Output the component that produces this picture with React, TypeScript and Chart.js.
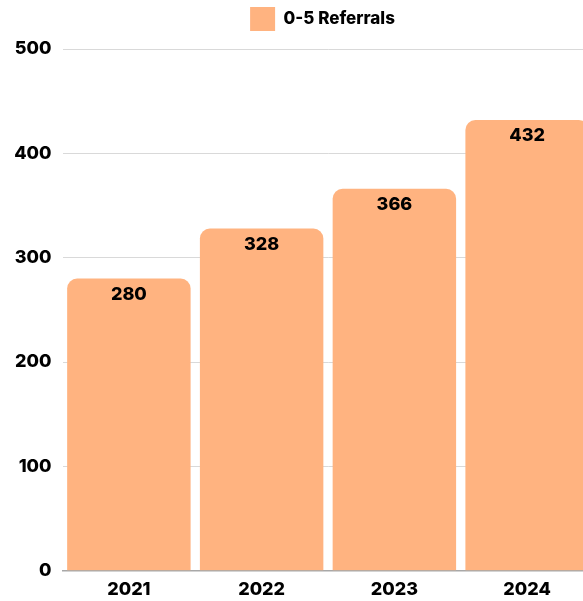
import React, { useEffect, useRef } from "react";
import { Chart, registerables } from "chart.js";

Chart.register(...registerables);

// ---- data ----
const categories = ["2021", "2022", "2023", "2024"];
const referrals = [280, 328, 366, 432];
const yTickValues = [0, 100, 200, 300, 400, 500];
const seriesLabel = "0-5 Referrals";

// ---- style ----
const FONT = "Inter, 'Noto Sans', sans-serif";
const WEIGHT = "800";
const BAR_COLOR = "#FFB380";
const CANVAS_W = 645;
const CANVAS_H = 601;

const valueLabels = {
  id: "valueLabels",
  afterDatasetsDraw(chart: any) {
    const ctx = chart.ctx;
    const meta = chart.getDatasetMeta(0);
    const data = chart.data.datasets[0].data;
    ctx.save();
    ctx.font = `${WEIGHT} 18px ${FONT}`;
    ctx.fillStyle = "#000";
    ctx.textAlign = "center";
    ctx.textBaseline = "middle";
    meta.data.forEach((el: any, i: number) => {
      ctx.fillText(String(data[i]), el.x, el.y + 16);
    });
    ctx.restore();
  },
};

const legendSpacer = {
  id: "legendSpacer",
  beforeUpdate(chart: any) {
    const legend = chart.legend;
    if (!legend || legend.__spaced) return;
    const fit = legend.fit;
    legend.fit = function () {
      fit.call(this);
      this.height += 8;
    };
    legend.__spaced = true;
  },
};

export default function App() {
  const ref = useRef<HTMLCanvasElement | null>(null);

  useEffect(() => {
    if (!ref.current) return;
    const chart = new Chart(ref.current, {
      type: "bar",
      data: {
        labels: categories,
        datasets: [
          {
            label: seriesLabel,
            data: referrals,
            backgroundColor: BAR_COLOR,
            borderWidth: 0,
            borderRadius: 10,
            borderSkipped: "start",
            barPercentage: 0.93,
            categoryPercentage: 1,
          },
        ],
      },
      options: {
        responsive: false,
        animation: false,
        layout: { padding: { left: 0, right: 0, top: 0, bottom: 0 } },
        plugins: {
          legend: {
            display: true,
            position: "top",
            labels: {
              boxWidth: 25,
              boxHeight: 24,
              padding: 7,
              color: "#000",
              font: { family: FONT, size: 17, weight: WEIGHT },
            },
          },
          tooltip: { enabled: false },
        },
        scales: {
          x: {
            afterFit(scale: any) {
              scale.height = CANVAS_H - 570.7;
            },
            grid: { display: false, drawTicks: false },
            border: { display: true, color: "#a8a8a8", width: 1.5 },
            ticks: {
              padding: 8,
              color: "#000",
              font: { family: FONT, size: 18, weight: WEIGHT },
            },
          },
          y: {
            min: 0,
            max: 500,
            afterFit(scale: any) {
              scale.width = 62.5;
            },
            afterBuildTicks(scale: any) {
              scale.ticks = yTickValues.map((v) => ({ value: v }));
            },
            grid: {
              drawTicks: false,
              color: (c: any) => (c.tick && c.tick.value === 0 ? "rgba(0,0,0,0)" : "#d9d9d9"),
            },
            border: { display: false },
            ticks: {
              padding: 11,
              color: "#000",
              font: { family: FONT, size: 18, weight: WEIGHT },
            },
          },
          y2: {
            position: "right",
            display: true,
            grid: { display: false },
            border: { display: false },
            ticks: { display: false },
            afterFit(scale: any) {
              scale.width = CANVAS_W - 593.5;
            },
          },
        },
      },
      plugins: [valueLabels, legendSpacer],
    });
    return () => chart.destroy();
  }, []);

  return (
    <div
      style={{
        position: "absolute",
        left: 0,
        top: 0,
        width: 583,
        height: 601,
        overflow: "hidden",
        background: "#fff",
      }}
    >
      <canvas ref={ref} width={CANVAS_W} height={CANVAS_H} style={{ display: "block" }} />
    </div>
  );
}
